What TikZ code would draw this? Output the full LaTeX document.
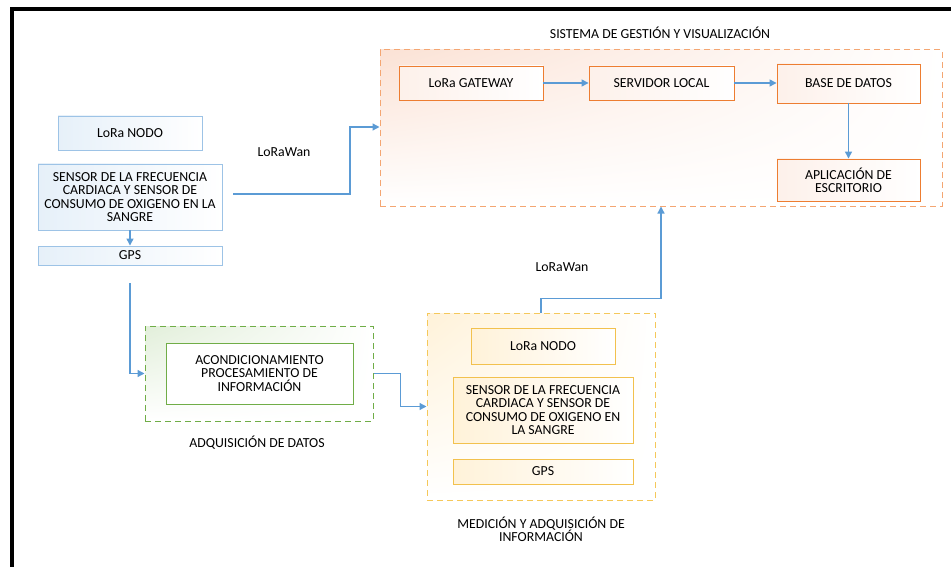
\documentclass[tikz,border=0pt]{standalone}
\usepackage{fontspec}
\setmainfont{Carlito}
\usetikzlibrary{arrows.meta,calc,shadings}
\definecolor{bluel}{HTML}{5B9BD5}
\definecolor{blueb}{HTML}{9DC3E6}
\definecolor{bluef}{HTML}{E6F0F9}
\definecolor{orb}{HTML}{ED7D31}
\definecolor{ordash}{HTML}{F4A672}
\definecolor{orf}{HTML}{FBE2D5}
\definecolor{grb}{HTML}{70AD47}
\definecolor{grf}{HTML}{E2EFDA}
\definecolor{yeb}{HTML}{F2C14E}
\definecolor{yedash}{HTML}{F5C85A}
\definecolor{yef}{HTML}{FFF2D9}
\tikzset{
  box/.style={draw, line width=0.9pt, align=center, inner sep=1pt, font=\fontsize{13.8}{13.4}\selectfont},
  bluebox/.style={box, draw=blueb, left color=bluef, right color=white},
  orbox/.style={box, draw=orb, left color=orf!50, right color=white},
  yebox/.style={box, draw=yeb, left color=yef, right color=white},
  grbox/.style={box, draw=grb, fill=white},
  cont/.style={draw, dashed, dash pattern=on 6pt off 4pt, line width=1pt},
  arr/.style={draw=bluel, line width=1.3pt, -{Triangle[length=7pt,width=7pt]}},
  lbl/.style={align=center, font=\fontsize{13.8}{13.4}\selectfont},
}
\begin{document}
\begin{tikzpicture}[x=1pt,y=-1pt]
\useasboundingbox (0,0) rectangle (951,567);
% frame
\draw[line width=4pt] (12,567) -- (12,9) -- (951,9);
% containers
\node[cont, draw=ordash, minimum width=562, minimum height=156, upper left=orf, upper right=white, lower left=white, lower right=white] (ocont) at (661,128) {};
\node[cont, draw=grb, minimum width=228, minimum height=95, upper left=grf, upper right=white, lower left=white, lower right=white] (gcont) at (259,373.5) {};
\node[cont, draw=yedash, minimum width=228, minimum height=187, upper left=yef, upper right=white, lower left=white, lower right=white] (ycont) at (541,406.5) {};
% labels
\node[lbl] (title) at (660,33) {SISTEMA DE GESTIÓN Y VISUALIZACIÓN};
\node[lbl] (lw1) at (284,152) {LoRaWan};
\node[lbl] (lw2) at (562,267) {LoRaWan};
\node[lbl] (adq) at (257,443) {ADQUISICIÓN DE DATOS};
\node[lbl] (med) at (541,529) {MEDICIÓN Y ADQUISICIÓN DE\\INFORMACIÓN};
% left blue
\node[bluebox, minimum width=144, minimum height=34] (lnodo) at (130,133) {LoRa NODO};
\node[bluebox, minimum width=184, minimum height=66] (lsens) at (130,197) {SENSOR DE LA FRECUENCIA\\CARDIACA Y SENSOR DE\\CONSUMO DE OXIGENO EN LA\\SANGRE};
\node[bluebox, minimum width=184, minimum height=19, inner sep=0pt] (lgps) at (130,255.5) {GPS};
% orange
\node[orbox, minimum width=144, minimum height=34] (gw) at (471,83) {LoRa GATEWAY};
\node[orbox, minimum width=145, minimum height=34] (srv) at (661.5,83) {SERVIDOR LOCAL};
\node[orbox, minimum width=143, minimum height=39] (bd) at (848.5,83.5) {BASE DE DATOS};
\node[orbox, minimum width=143, minimum height=42] (app) at (848.5,180) {APLICACIÓN DE\\ESCRITORIO};
% green
\node[grbox, minimum width=187, minimum height=61] (ginner) at (259.5,373.5) {ACONDICIONAMIENTO\\PROCESAMIENTO DE\\INFORMACIÓN};
% yellow
\node[yebox, minimum width=144, minimum height=36] (ynodo) at (543,346) {LoRa NODO};
\node[yebox, minimum width=180, minimum height=66] (ysens) at (543,410) {SENSOR DE LA FRECUENCIA\\CARDIACA Y SENSOR DE\\CONSUMO DE OXIGENO EN\\LA SANGRE};
\node[yebox, minimum width=180, minimum height=25] (ygps) at (543,471.5) {GPS};
% connectors
\coordinate (k1) at (350,127);
\draw[arr] (lsens.south) -- (lgps.north);
\draw[arr] ($(lsens.east)+(11,-3)$) -| (k1) -- (k1 -| ocont.west);
\draw[arr] ($(lgps.south)+(0,18)$) |- (gcont.west);
\draw[arr] (gcont.east) -- ++(27,0) |- (ycont.west);
\draw[arr] (ycont.north) |- ($(ocont.south)+(0,92)$) -- (ocont.south);
\draw[arr] (gw) -- (srv);
\draw[arr] (srv) -- (srv -| bd.west);
\draw[arr] (bd.south) -- (app.north);
\end{tikzpicture}
\end{document}
